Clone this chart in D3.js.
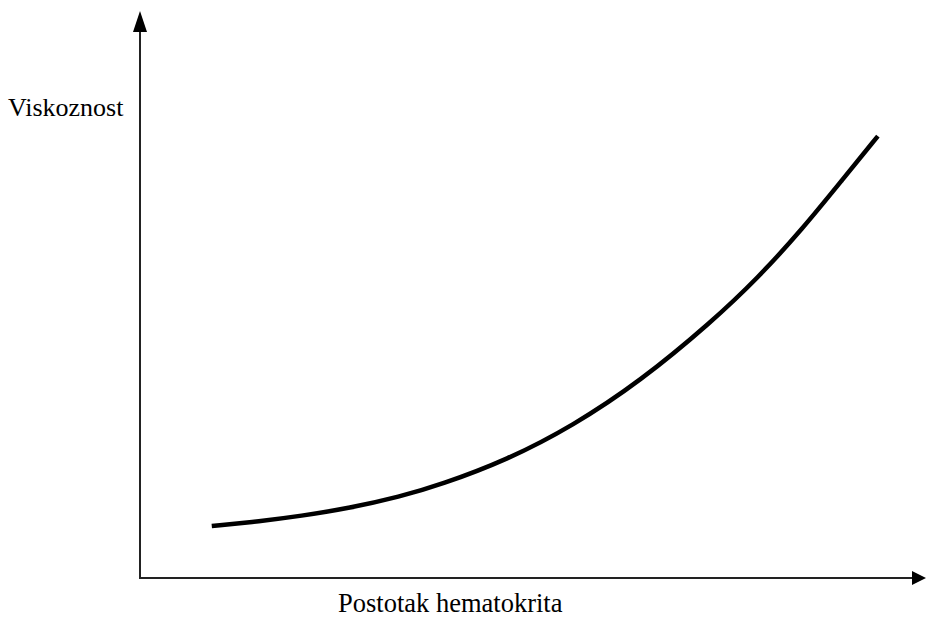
<!DOCTYPE html>
<html>
<head>
<meta charset="utf-8">
<script src="https://cdn.jsdelivr.net/npm/d3@7"></script>
<style>
html,body{margin:0;padding:0;background:#fff;}
svg{display:block;}
</style>
</head>
<body>
<svg id="chart" width="927" height="618"></svg>
<script>
// Hematocrit (relative units, 0-100) and viscosity (relative units, 0-100)
const hematocrit = [9.2, 15.4, 20.5, 26.9, 33.3, 38.5, 47.1, 55.5, 64.1, 73.3, 79.2, 84.9, 90.1, 94.6];
const viscosity  = [9.15, 10.0, 10.9, 12.3, 14.3, 16.4, 20.8, 26.8, 34.6, 45.1, 52.8, 61.4, 70.2, 77.8];
const xLabel = "Postotak hematokrita";
const yLabel = "Viskoznost";

const svg = d3.select("#chart");
const x = d3.scaleLinear().domain([0, 100]).range([140, 920]);
const y = d3.scaleLinear().domain([0, 100]).range([578, 10]);

const axisColor = "#222";
svg.append("line").attr("x1", x(0)).attr("x2", x(0)).attr("y1", y(0)+1).attr("y2", 30)
  .attr("stroke", axisColor).attr("stroke-width", 2);
svg.append("line").attr("x1", x(0)-1).attr("x2", 914).attr("y1", y(0)).attr("y2", y(0))
  .attr("stroke", axisColor).attr("stroke-width", 2);
svg.append("path").attr("d", `M${x(0)},11 L${x(0)-7},32 L${x(0)+7},32 Z`).attr("fill", "#000");
svg.append("path").attr("d", `M926,${y(0)} L912,${y(0)-7} L912,${y(0)+7} Z`).attr("fill", "#000");

const pts = hematocrit.map((h, i) => [h, viscosity[i]]);
const line = d3.line().x(d => x(d[0])).y(d => y(d[1])).curve(d3.curveBasis);
svg.append("path").datum(pts).attr("d", line)
  .attr("fill", "none").attr("stroke", "#000").attr("stroke-width", 4.5).attr("stroke-linecap", "butt");

svg.append("text").attr("x", 8).attr("y", 116).text(yLabel)
  .attr("font-family", "'Liberation Serif', 'Times New Roman', serif").attr("font-size", 26).attr("fill", "#000");
svg.append("text").attr("x", 338).attr("y", 612).text(xLabel)
  .attr("font-family", "'Liberation Serif', 'Times New Roman', serif").attr("font-size", 26.5).attr("fill", "#000");
</script>
</body>
</html>
